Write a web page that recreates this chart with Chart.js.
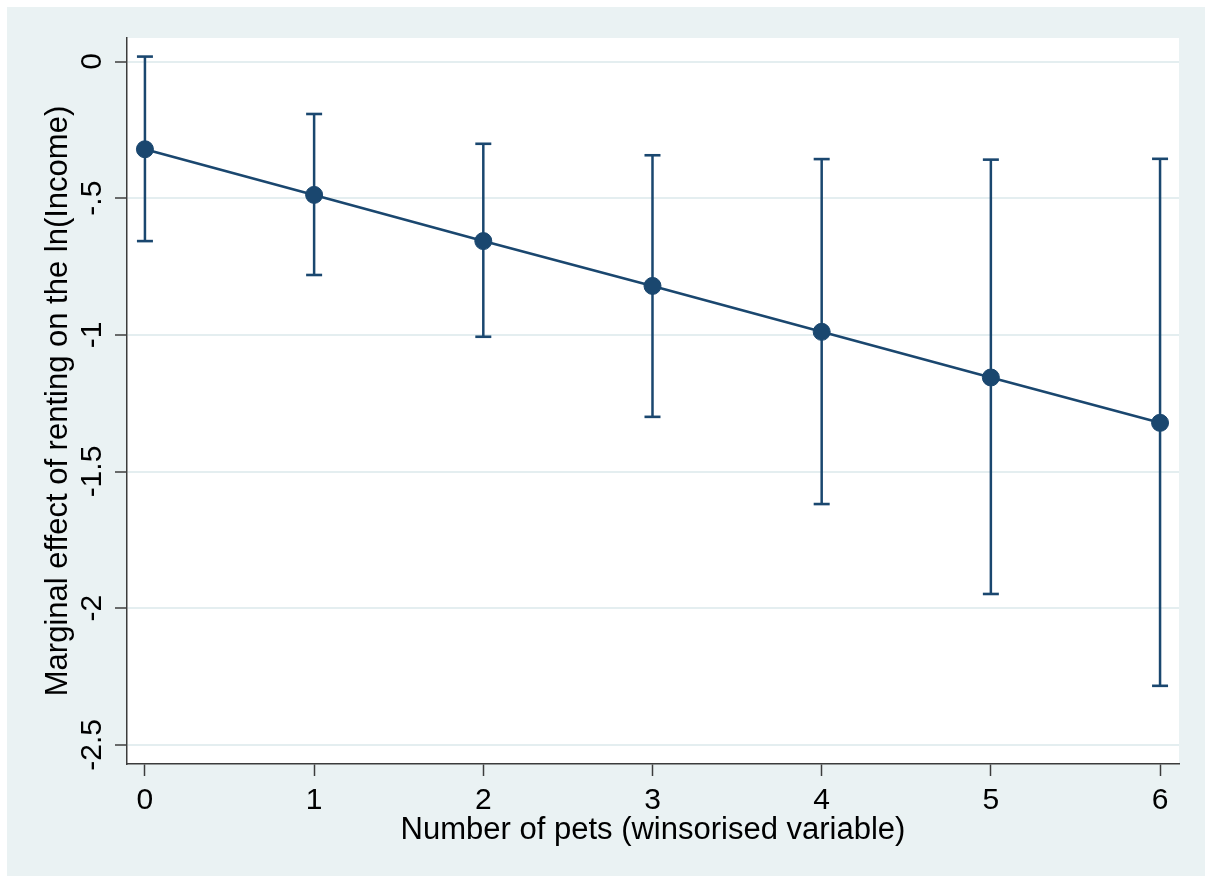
<!DOCTYPE html>
<html>
<head>
<meta charset="utf-8">
<script src="https://cdn.jsdelivr.net/npm/chart.js@4/dist/chart.umd.min.js"></script>
<style>
  html, body { margin: 0; padding: 0; background: #ffffff; }
  #wrap { position: absolute; left: 0; top: 0; width: 1205px; height: 876px; }
  canvas { display: block; }
</style>
</head>
<body>
<div id="wrap"><canvas id="c" width="1205" height="876"></canvas></div>
<script>
// ---- data ----
const pets = [0, 1, 2, 3, 4, 5, 6];
const marginalEffect = [-0.321, -0.488, -0.657, -0.821, -0.989, -1.156, -1.322];
const ciHigh = [0.018, -0.192, -0.301, -0.343, -0.357, -0.359, -0.356];
const ciLow = [-0.657, -0.781, -1.007, -1.300, -1.619, -1.948, -2.284];
const xTicks = [0, 1, 2, 3, 4, 5, 6];
const xTickLabels = ['0', '1', '2', '3', '4', '5', '6'];
const yTicks = [0, -0.5, -1, -1.5, -2, -2.5];
const yTickLabels = ['0', '-.5', '-1', '-1.5', '-2', '-2.5'];
const xTitle = 'Number of pets (winsorised variable)';
const yTitle = 'Marginal effect of renting on the ln(Income)';

const NAVY = '#1a476f';
const AXIS = '#3c3c3c';
const GRID = '#e4eef0';
const FONT = "'Liberation Sans', Arial, sans-serif";

const mainPoints = pets.map((p, i) => ({ x: p, y: marginalEffect[i] }));
const ciPoints = [];
pets.forEach((p, i) => {
  ciPoints.push({ x: p, y: ciHigh[i] });
  ciPoints.push({ x: p, y: ciLow[i] });
  ciPoints.push({ x: p, y: null });
});

const bgPlugin = {
  id: 'bg',
  beforeDraw(chart) {
    const ctx = chart.ctx;
    const a = chart.chartArea;
    ctx.save();
    ctx.fillStyle = '#ffffff';
    ctx.fillRect(0, 0, chart.width, chart.height);
    ctx.fillStyle = '#eaf2f3';
    ctx.fillRect(7, 7, chart.width - 7, chart.height - 7);
    ctx.fillStyle = '#ffffff';
    ctx.fillRect(a.left, a.top, a.right - a.left, a.bottom - a.top);
    ctx.restore();
  }
};

new Chart(document.getElementById('c'), {
  type: 'line',
  data: {
    datasets: [
      {
        label: 'effect',
        data: mainPoints,
        borderColor: NAVY,
        backgroundColor: NAVY,
        borderWidth: 2.6,
        pointRadius: 8.5,
        pointBorderWidth: 1,
        pointBackgroundColor: NAVY,
        pointBorderColor: NAVY,
        tension: 0,
        order: 0
      },
      {
        label: 'ci',
        data: ciPoints,
        borderColor: NAVY,
        borderWidth: 2.5,
        pointStyle: 'line',
        pointRadius: 8,
        pointBorderWidth: 2.6,
        pointBorderColor: NAVY,
        spanGaps: false,
        tension: 0,
        order: 1
      }
    ]
  },
  options: {
    responsive: false,
    animation: false,
    events: [],
    layout: { padding: { left: 0, right: 26, top: 38, bottom: 0 } },
    plugins: {
      legend: { display: false },
      tooltip: { enabled: false }
    },
    scales: {
      x: {
        type: 'linear',
        min: -0.106,
        max: 6.112,
        afterBuildTicks(scale) { scale.ticks = xTicks.map(v => ({ value: v })); },
        afterFit(scale) { scale.height = 112; },
        ticks: {
          callback(v) { const i = xTicks.indexOf(v); return i >= 0 ? xTickLabels[i] : ''; },
          font: { family: FONT, size: 30 },
          color: '#000000',
          padding: 7,
          maxRotation: 0,
          autoSkip: false
        },
        grid: {
          drawOnChartArea: false,
          drawTicks: true,
          tickLength: 12,
          tickColor: AXIS,
          tickWidth: 1.5
        },
        border: { display: true, color: AXIS, width: 1.5 },
        title: {
          display: true,
          text: xTitle,
          font: { family: FONT, size: 31 },
          color: '#000000',
          padding: { top: 0, bottom: 27 }
        }
      },
      y: {
        type: 'linear',
        min: -2.57,
        max: 0.086,
        afterBuildTicks(scale) { scale.ticks = yTicks.map(v => ({ value: v })); },
        afterFit(scale) { scale.width = 127; },
        ticks: {
          callback(v) { const i = yTicks.indexOf(v); return i >= 0 ? yTickLabels[i] : ''; },
          font: { family: FONT, size: 30 },
          color: '#000000',
          minRotation: 90,
          maxRotation: 90,
          crossAlign: 'center',
          padding: -4,
          autoSkip: false
        },
        grid: {
          display: true,
          drawOnChartArea: true,
          color: GRID,
          lineWidth: 2,
          drawTicks: true,
          tickLength: 12,
          tickColor: AXIS,
          tickWidth: 1.5
        },
        border: { display: true, color: AXIS, width: 1.5 },
        title: {
          display: true,
          text: yTitle,
          font: { family: FONT, size: 31 },
          color: '#000000',
          padding: { top: 40, bottom: 0 }
        }
      }
    }
  },
  plugins: [bgPlugin]
});
</script>
</body>
</html>
